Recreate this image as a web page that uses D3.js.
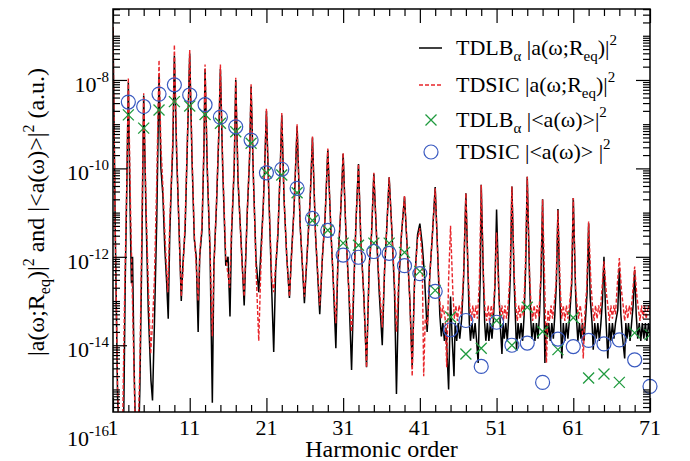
<!DOCTYPE html>
<html>
<head>
<meta charset="utf-8">
<script src="https://cdn.jsdelivr.net/npm/d3@7"></script>
<style>
  body { margin: 0; background: #fff; }
  svg { display: block; }
  text { font-family: "Liberation Serif", "Times New Roman", serif; fill: #000; }
</style>
</head>
<body>
<svg id="graph" width="690" height="461"></svg>
<script>
// harmonic order vs log10 of the spectrum
var tdlbLine = [
  [1,-6.8],[1.3,-11.5],[1.6,-15.2],[1.9,-16.5],[2.2,-16.4],[2.4,-15.6],[2.6,-12.5],[2.8,-10.4],[3,-8.05],
  [3.2,-10.6],[3.4,-12.6],[3.55,-12.0],[3.75,-14.5],[4.0,-16.5],[4.3,-16.5],[4.5,-15.0],[4.75,-12.0],[5,-8.35],
  [5.3,-11.0],[5.6,-13.2],[5.95,-14.8],[6.15,-15.25],[6.4,-13.5],[6.7,-11.2],[7,-7.9],
  [7.25,-10.0],[7.5,-10.6],[7.75,-11.8],[8.0,-12.6],[8.2,-13.4],[8.4,-11.5],[8.6,-10.4],[8.8,-9.5],[9,-7.45],
  [9.3,-9.7],[9.6,-11.3],[9.9,-13.0],[10.1,-12.2],[10.4,-11.4],[10.7,-9.4],[11,-7.4],
  [11.3,-9.8],[11.6,-11.6],[11.85,-12.0],[12.1,-13.7],[12.3,-12.0],[12.6,-11.4],[12.85,-9.6],[13,-7.75],
  [13.3,-10.1],[13.65,-11.9],[13.95,-15.3],[14.15,-12.2],[14.5,-10.8],[14.8,-9.2],[15,-7.75],
  [15.3,-10.0],[15.7,-12.2],[16.0,-12.0],[16.25,-13.35],[16.45,-11.5],[16.8,-10.0],[17,-8.0],
  [17.3,-10.3],[17.8,-12.0],[18.1,-13.1],[18.5,-11.0],[18.8,-9.8],[19,-8.15],
  [19.3,-10.2],[19.65,-12.1],[20.0,-12.8],[20.3,-11.8],[20.6,-10.8],[20.8,-9.8],[21,-8.7],
  [21.35,-10.8],[21.7,-12.8],[21.95,-14.15],[22.2,-12.3],[22.5,-11.5],[22.8,-10.0],[23,-8.8],
  [23.3,-10.7],[23.65,-12.0],[24.0,-12.93],[24.25,-12.0],[24.6,-10.9],[25,-9.05],
  [25.4,-11.3],[25.95,-13.05],[26.35,-11.8],[26.7,-10.7],[27,-9.3],
  [27.4,-11.5],[27.95,-13.3],[28.3,-12.0],[28.65,-11.1],[29,-9.58],
  [29.4,-11.4],[29.7,-12.5],[30.05,-14.07],[30.3,-12.2],[30.7,-10.9],[31,-9.67],
  [31.35,-11.4],[31.75,-12.8],[32.1,-14.56],[32.4,-12.6],[32.7,-11.1],[33,-9.9],
  [33.3,-11.6],[33.7,-12.9],[34.05,-14.5],[34.4,-12.2],[34.7,-11.5],[35,-10.12],
  [35.35,-11.5],[35.7,-12.8],[36.1,-14.0],[36.4,-12.3],[36.7,-11.3],[37,-10.2],
  [37.35,-11.4],[37.7,-12.8],[37.95,-15.1],[38.25,-12.6],[38.6,-11.5],[39,-10.64],
  [39.35,-11.8],[39.7,-13.0],[40.0,-14.5],[40.3,-12.6],[40.7,-11.5],[41,-11.25],[41.3,-11.7],[41.6,-12.4],
  [41.95,-13.7],[42.3,-12.4],[42.6,-11.6],[43,-10.42],
  [43.3,-11.8],[43.6,-13.3],[43.8,-13.8],[44.0,-13.5],[44.2,-13.9],[44.4,-13.6],[44.75,-15.0],[45.0,-12.9],[45.2,-13.8],[45.45,-14.7],[45.6,-13.5],[45.8,-13.9],[46.0,-13.5],[46.2,-13.85],[46.45,-13.4],[46.7,-12.5],[47,-10.56],
  [47.3,-12.5],[47.45,-13.5],[47.6,-13.9],[47.8,-13.5],[48.0,-13.85],[48.2,-13.5],[48.4,-13.9],[48.6,-14.4],[48.75,-13.3],[48.88,-12.4],[49,-10.37],
  [49.3,-12.6],[49.45,-13.5],[49.6,-13.9],[49.8,-13.5],[50.0,-13.9],[50.2,-13.5],[50.4,-13.85],[50.6,-13.4],[50.8,-12.6],[51,-10.93],
  [51.3,-12.8],[51.5,-13.6],[51.7,-14.2],[51.85,-13.5],[52.0,-13.85],[52.2,-13.5],[52.4,-13.9],[52.6,-13.3],[52.8,-12.4],[53,-10.41],
  [53.3,-12.6],[53.6,-14.1],[53.8,-13.5],[54.0,-13.85],[54.2,-13.5],[54.4,-13.9],[54.6,-13.3],[54.8,-12.2],[55,-10.19],
  [55.3,-12.5],[55.45,-13.4],[55.6,-13.85],[55.8,-13.5],[56.0,-13.9],[56.2,-13.5],[56.4,-13.85],[56.6,-13.3],[56.8,-12.4],[57,-10.7],
  [57.15,-12.6],[57.3,-14.4],[57.45,-13.5],[57.6,-13.85],[57.8,-13.5],[58.0,-13.9],[58.2,-13.5],[58.4,-13.85],[58.6,-13.3],[58.8,-12.6],[59,-10.92],
  [59.25,-12.9],[59.5,-14.3],[59.7,-13.5],[59.9,-13.9],[60.1,-13.5],[60.3,-13.85],[60.5,-13.4],[60.8,-12.6],[61,-10.67],
  [61.3,-12.8],[61.45,-13.5],[61.6,-13.9],[61.8,-13.5],[62.0,-13.85],[62.2,-13.5],[62.4,-13.9],[62.6,-13.4],[62.8,-12.8],[63,-11.24],
  [63.2,-12.9],[63.45,-13.5],[63.6,-14.1],[63.8,-13.5],[64.0,-13.85],[64.2,-13.5],[64.4,-13.9],[64.6,-13.5],[64.8,-13.0],[65,-12.0],
  [65.2,-13.2],[65.5,-14.3],[65.7,-13.5],[65.9,-13.9],[66.1,-13.5],[66.3,-13.85],[66.5,-13.5],[66.8,-13.2],[67,-12.25],
  [67.2,-13.3],[67.4,-13.8],[67.7,-14.3],[67.85,-13.5],[68.0,-13.85],[68.2,-13.5],[68.4,-13.9],[68.6,-13.5],[68.8,-13.1],[69,-12.3],
  [69.2,-13.3],[69.4,-13.85],[69.6,-13.5],[69.8,-13.9],[70.0,-13.5],[70.2,-13.85],[70.4,-13.5],[70.6,-13.9],[70.8,-13.5],[71,-13.7]
];

var tdsicLine = [
  [1,-6.8],[1.3,-11.5],[1.6,-15.0],[1.9,-16.5],[2.2,-16.5],[2.5,-13.0],[2.8,-10.3],[3,-7.95],
  [3.3,-11.0],[3.6,-13.5],[3.9,-15.8],[4.2,-16.5],[4.5,-14.5],[4.75,-11.5],[5,-8.3],
  [5.3,-10.8],[5.6,-12.6],[5.9,-14.2],[6.15,-13.5],[6.4,-12.5],[6.7,-10.3],[7,-7.55],
  [7.25,-9.5],[7.5,-10.4],[7.7,-11.2],[7.9,-12.0],[8.15,-12.8],[8.4,-11.2],[8.6,-10.3],[8.8,-9.3],[9,-7.2],
  [9.3,-9.6],[9.6,-11.3],[9.9,-12.9],[10.1,-12.4],[10.4,-11.2],[10.7,-9.3],[11,-7.32],
  [11.3,-9.7],[11.6,-11.5],[11.85,-12.2],[12.1,-13.0],[12.35,-11.8],[12.6,-11.3],[12.85,-9.5],[13,-7.65],
  [13.3,-10.0],[13.65,-11.8],[13.95,-13.8],[14.15,-12.3],[14.5,-10.7],[14.8,-9.1],[15,-7.65],
  [15.3,-9.9],[15.7,-12.0],[16.2,-12.7],[16.45,-11.4],[16.8,-9.9],[17,-7.95],
  [17.3,-10.2],[17.8,-12.1],[18.1,-12.9],[18.5,-11.0],[18.8,-9.7],[19,-8.1],
  [19.3,-10.2],[19.65,-12.3],[20.0,-13.9],[20.3,-12.1],[20.6,-10.8],[20.8,-9.8],[21,-8.65],
  [21.35,-10.8],[21.7,-12.5],[21.95,-12.8],[22.2,-12.2],[22.5,-11.4],[22.8,-10.0],[23,-8.75],
  [23.3,-10.7],[23.65,-12.0],[24.0,-12.9],[24.25,-12.1],[24.6,-10.9],[25,-9.0],
  [25.4,-11.3],[25.95,-12.9],[26.35,-11.8],[26.7,-10.7],[27,-9.28],
  [27.4,-11.5],[27.95,-13.1],[28.3,-12.0],[28.65,-11.1],[29,-9.55],
  [29.4,-11.4],[29.7,-12.5],[30.05,-13.5],[30.3,-12.2],[30.7,-10.9],[31,-9.65],
  [31.35,-11.4],[31.75,-12.8],[32.1,-13.7],[32.4,-12.6],[32.7,-11.1],[33,-9.9],
  [33.3,-11.6],[33.7,-12.9],[34.05,-14.5],[34.4,-12.2],[34.7,-11.5],[35,-10.1],
  [35.35,-11.5],[35.7,-12.6],[36.1,-13.6],[36.4,-12.3],[36.7,-11.3],[37,-10.2],
  [37.35,-11.4],[37.7,-12.6],[37.95,-13.7],[38.25,-12.5],[38.6,-11.5],[39,-10.62],
  [39.35,-11.8],[39.7,-13.0],[40.0,-14.7],[40.3,-12.6],[40.7,-11.6],[41,-11.35],[41.3,-12.0],[41.5,-14.7],[41.7,-13.4],
  [42.0,-13.5],[42.3,-12.4],[42.6,-11.6],[43,-10.45],
  [43.3,-11.8],[43.6,-13.0],[43.8,-13.4],[44.0,-13.1],[44.3,-13.4],[44.5,-14.5],[44.75,-12.5],[45,-11.3],
  [45.3,-12.8],[45.5,-13.4],[45.7,-13.1],[45.9,-13.45],[46.1,-13.1],[46.4,-13.3],[46.7,-12.4],[47,-10.56],
  [47.3,-12.4],[47.5,-13.1],[47.7,-13.45],[47.9,-13.1],[48.1,-13.4],[48.3,-13.1],[48.5,-13.4],[48.75,-12.6],[49,-10.37],
  [49.3,-12.5],[49.5,-13.2],[49.7,-13.45],[49.9,-13.1],[50.1,-13.5],[50.3,-13.1],[50.5,-13.4],[50.75,-12.7],[51,-11.45],
  [51.3,-12.9],[51.5,-13.4],[51.7,-13.1],[51.9,-13.45],[52.1,-13.1],[52.3,-13.4],[52.5,-13.1],[52.75,-12.4],[53,-10.41],
  [53.3,-12.4],[53.5,-13.1],[53.7,-13.45],[53.9,-13.1],[54.1,-13.4],[54.3,-13.1],[54.5,-13.35],[54.75,-12.2],[55,-10.19],
  [55.3,-12.4],[55.5,-13.1],[55.7,-13.45],[55.9,-13.1],[56.1,-13.4],[56.3,-13.1],[56.5,-13.35],[56.75,-12.5],[57,-10.7],
  [57.3,-12.8],[57.5,-14.4],[57.7,-13.2],[57.9,-13.45],[58.1,-13.1],[58.3,-13.4],[58.5,-13.1],[58.75,-12.6],[59,-10.95],
  [59.3,-12.7],[59.5,-13.4],[59.7,-13.1],[59.9,-13.45],[60.1,-13.1],[60.3,-13.4],[60.5,-13.1],[60.75,-12.6],[61,-10.67],
  [61.3,-12.7],[61.5,-13.1],[61.7,-13.4],[61.9,-13.1],[62.1,-13.35],[62.3,-14.3],[62.5,-13.3],[62.75,-12.7],[63,-11.2],
  [63.3,-12.6],[63.5,-13.1],[63.7,-13.45],[63.9,-13.1],[64.1,-13.4],[64.3,-13.1],[64.5,-13.3],[64.75,-12.7],[65,-12.1],
  [65.3,-12.8],[65.5,-13.1],[65.7,-13.45],[65.9,-13.1],[66.1,-13.4],[66.3,-13.1],[66.5,-13.3],[66.75,-12.6],[67,-12.03],
  [67.3,-12.8],[67.5,-13.1],[67.7,-13.45],[67.9,-13.1],[68.1,-13.4],[68.3,-13.1],[68.5,-13.3],[68.75,-12.8],[69,-12.22],
  [69.3,-12.9],[69.5,-13.2],[69.7,-13.45],[69.9,-13.1],[70.1,-13.4],[70.3,-13.1],[70.5,-13.4],[70.8,-13.1],[71,-13.3]
];

// orientation-averaged spectra, one value per odd harmonic
var oddHarmonics = [3,5,7,9,11,13,15,17,19,21,23,25,27,29,31,33,35,37,39,41,43,45,47,49,51,53,55,57,59,61,63,65,67,69,71];
var tdlbAvg = [-8.79,-9.09,-8.68,-8.49,-8.59,-8.78,-8.98,-9.17,-9.43,-10.1,-10.15,-10.55,-11.18,-11.4,-11.69,-11.74,-11.69,-11.69,-11.9,-12.33,-12.76,-13.36,-14.2,-14.07,-13.44,-14.0,-13.14,-13.69,-14.1,-13.38,-14.74,-14.65,-14.84,-13.72,-13.76];
var tdsicAvg = [-8.5,-8.6,-8.32,-8.11,-8.34,-8.56,-8.84,-9.06,-9.36,-10.1,-10.02,-10.45,-11.13,-11.4,-11.96,-12.01,-11.88,-11.92,-12.2,-12.38,-12.78,-13.65,-13.44,-14.48,-13.48,-14.0,-13.95,-14.84,-13.86,-14.03,-13.89,-13.97,-13.88,-14.33,-14.93];

var xMajor = [1,11,21,31,41,51,61,71];
var yMajorExp = [-16,-14,-12,-10,-8];

var svg = d3.select('#graph'),
    plotL = 113, plotR = 650, plotT = 9, plotB = 412;

var x = d3.scaleLinear().domain([1, 71]).range([plotL, plotR]);
var y = d3.scaleLog().domain([Math.pow(10, -15.51), Math.pow(10, -6.395)]).range([plotB, plotT]);

var pw = function(e) { return Math.pow(10, e); };

svg.append("clipPath").attr("id", "plotclip")
  .append("rect").attr("x", plotL).attr("y", plotT).attr("width", plotR - plotL).attr("height", plotB - plotT);

var line = d3.line()
    .x(function(d) { return x(d[0]); })
    .y(function(d) { return y(pw(d[1])); });

var plot = svg.append("g").attr("clip-path", "url(#plotclip)");

plot.append("path")
    .datum(tdlbLine)
    .attr("d", line)
    .attr("fill", "none")
    .attr("stroke", "#000")
    .attr("stroke-width", 1.5);

plot.append("path")
    .datum(tdsicLine)
    .attr("d", line)
    .attr("fill", "none")
    .attr("stroke", "#e8262b")
    .attr("stroke-width", 1.4)
    .attr("stroke-dasharray", "4,2");

var green = "#1f9a3e", blue = "#3a5ac0";

function cross(sel, s) {
  sel.append("path")
    .attr("d", "M" + (-s) + "," + (-s) + "L" + s + "," + s + "M" + (-s) + "," + s + "L" + s + "," + (-s))
    .attr("stroke", green).attr("stroke-width", 1.3).attr("fill", "none");
}

var crosses = plot.selectAll(".cross")
  .data(oddHarmonics.map(function(h, i) { return [h, tdlbAvg[i]]; }))
  .enter().append("g")
    .attr("class", "cross")
    .attr("transform", function(d) { return "translate(" + x(d[0]) + "," + y(pw(d[1])) + ")"; });
cross(crosses, 5.5);

svg.selectAll(".circ")
  .data(oddHarmonics.map(function(h, i) { return [h, tdsicAvg[i]]; }))
  .enter().append("circle")
    .attr("class", "circ")
    .attr("cx", function(d) { return x(d[0]); })
    .attr("cy", function(d) { return y(pw(d[1])); })
    .attr("r", 7)
    .attr("fill", "none")
    .attr("stroke", blue)
    .attr("stroke-width", 1.2);

// ticks, pointing inward on all four sides
var xMinor = d3.range(3, 71, 2).filter(function(v) { return xMajor.indexOf(v) < 0; });
var yMinor = [];
d3.range(-16, -6).forEach(function(k) {
  for (var m = 1; m < 10; m++) {
    var v = m * Math.pow(10, k);
    if (m == 1 && k % 2 == 0) continue;
    if (v > y.domain()[0] && v < y.domain()[1]) yMinor.push(v);
  }
});
var yMajor = yMajorExp.map(pw).filter(function(v) { return v > y.domain()[0] && v < y.domain()[1]; });

function tickAxis(axis, vals, len, tx, ty) {
  var g = svg.append("g")
    .attr("transform", "translate(" + tx + "," + ty + ")")
    .call(axis.tickValues(vals).tickSizeInner(len).tickSizeOuter(0).tickFormat(""));
  g.select(".domain").remove();
  g.selectAll("line").attr("stroke", "#000").attr("stroke-width", 1.2);
}
tickAxis(d3.axisBottom(x), xMajor, -14, 0, plotB);
tickAxis(d3.axisBottom(x), xMinor, -7, 0, plotB);
tickAxis(d3.axisTop(x), xMajor, -14, 0, plotT);
tickAxis(d3.axisTop(x), xMinor, -7, 0, plotT);
tickAxis(d3.axisLeft(y), yMajor, -14, plotL, 0);
tickAxis(d3.axisLeft(y), yMinor, -7, plotL, 0);
tickAxis(d3.axisRight(y), yMajor, -14, plotR, 0);
tickAxis(d3.axisRight(y), yMinor, -7, plotR, 0);

svg.append("rect")
  .attr("x", plotL).attr("y", plotT).attr("width", plotR - plotL).attr("height", plotB - plotT)
  .attr("fill", "none").attr("stroke", "#000").attr("stroke-width", 1.5);

// tick labels
svg.selectAll(".xlab").data(xMajor).enter().append("text")
  .attr("class", "xlab")
  .attr("x", function(d) { return x(d); })
  .attr("y", 435)
  .attr("text-anchor", "middle")
  .attr("font-size", 22)
  .text(function(d) { return d; });

var ylab = svg.selectAll(".ylab").data(yMajorExp).enter().append("text")
  .attr("class", "ylab")
  .attr("x", 109)
  .attr("y", function(d) { return y(pw(d)) + 12; })
  .attr("text-anchor", "end")
  .attr("font-size", 22);
ylab.append("tspan").text("10");
ylab.append("tspan").attr("font-size", 15).attr("dy", -10).text(function(d) { return d; });

// axis titles
svg.append("text")
  .attr("x", (plotL + plotR) / 2)
  .attr("y", 457)
  .attr("text-anchor", "middle")
  .attr("font-size", 24)
  .text("Harmonic order");

function rich(t, parts, small) {
  parts.forEach(function(p) {
    var s = t.append("tspan").text(p[0]);
    if (p[1] == "sub") s.attr("font-size", small).attr("dy", 6);
    if (p[1] == "up") s.attr("dy", -6);
    if (p[1] == "sup") s.attr("font-size", small).attr("dy", -10);
    if (p[1] == "down") s.attr("dy", 10);
  });
}

var yt = svg.append("text")
  .attr("transform", "translate(44,212) rotate(-90)")
  .attr("text-anchor", "middle")
  .attr("font-size", 24);
rich(yt, [["|a(ω;R"], ["eq", "sub"], [")|", "up"], ["2", "sup"], [" and |<a(ω)>|", "down"], ["2", "sup"], [" (a.u.)", "down"]], 16);

// legend
var legendRows = [
  {y: 48, parts: [["TDLB"], ["α", "sub"], [" |a(ω;R", "up"], ["eq", "sub"], [")|", "up"], ["2", "sup"]]},
  {y: 85, parts: [["TDSIC |a(ω;R"], ["eq", "sub"], [")|", "up"], ["2", "sup"]]},
  {y: 120, parts: [["TDLB"], ["α", "sub"], [" |<a(ω)>|", "up"], ["2", "sup"]]},
  {y: 152, parts: [["TDSIC |<a(ω)> |"], ["2", "sup"]]}
];
var lg = svg.append("g");
legendRows.forEach(function(r) {
  var t = lg.append("text").attr("x", 456).attr("y", r.y + 7).attr("font-size", 22);
  rich(t, r.parts, 15);
});
lg.append("line").attr("x1", 419).attr("x2", 442).attr("y1", 48).attr("y2", 48)
  .attr("stroke", "#000").attr("stroke-width", 1.5);
lg.append("line").attr("x1", 419).attr("x2", 442).attr("y1", 85).attr("y2", 85)
  .attr("stroke", "#e8262b").attr("stroke-width", 1.4).attr("stroke-dasharray", "4,2");
cross(lg.append("g").attr("transform", "translate(431,120)"), 5.5);
lg.append("circle").attr("cx", 431).attr("cy", 152).attr("r", 7)
  .attr("fill", "none").attr("stroke", blue).attr("stroke-width", 1.2);
</script>
</body>
</html>
